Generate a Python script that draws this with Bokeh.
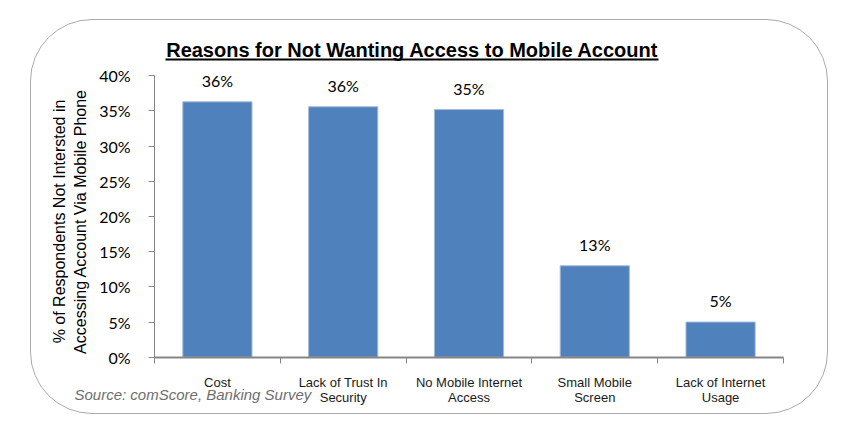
from bokeh.plotting import figure
from bokeh.models import (ColumnDataSource, FixedTicker, PrintfTickFormatter, Range1d,
                          LabelSet, Label, BoxAnnotation)
from bokeh.core.properties import value
from bokeh.embed import file_html
from bokeh.resources import INLINE

# ---- data ----
categories = ["Cost", "Lack of Trust In\nSecurity", "No Mobile Internet\nAccess",
              "Small Mobile\nScreen", "Lack of Internet\nUsage"]
values = [36.3, 35.6, 35.2, 13.0, 5.0]
y_ticks = [0, 5, 10, 15, 20, 25, 30, 35, 40]
title_text = "Reasons for Not Wanting Access to Mobile Account"
y_label_lines = ["% of Respondents Not Intersted in", "Accessing Account Via Mobile Phone"]
source_text = "Source: comScore, Banking Survey"

n = len(categories)
x_pos = [i + 0.5 for i in range(n)]
bounds = list(range(n + 1))
labels = [f"{round(v)}%" for v in values]
src = ColumnDataSource(dict(x=x_pos, top=values, label=labels))

W, H = 798, 395
p = figure(width=W, height=H,
           x_range=Range1d(-0.978, n + 0.366), y_range=Range1d(-8.28, 47.86),
           output_backend="svg", toolbar_location=None,
           min_border_left=0, min_border_right=0, min_border_top=0, min_border_bottom=0)
p.margin = (19, 0, 0, 30)
p.styles = {"border": "1px solid #ababab", "border-radius": "62px", "box-sizing": "border-box"}
p.background_fill_color = None
p.border_fill_color = None
p.outline_line_color = None
p.grid.visible = False

p.vbar(x="x", top="top", width=0.55, source=src,
       fill_color="#4F81BD", line_color="#A3BBDC", line_width=1)

p.add_layout(LabelSet(x="x", y="top", text="label", source=src, y_offset=15,
                      text_align="center", text_baseline="alphabetic",
                      text_font=value("Lato"), text_font_size="16px", text_color="#000000"))

# y axis
yax = p.yaxis[0]
yax.fixed_location = 0
yax.bounds = (y_ticks[0], y_ticks[-1])
yax.ticker = FixedTicker(ticks=y_ticks)
yax.formatter = PrintfTickFormatter(format="%d%%")
yax.axis_line_color = "#868686"
yax.major_tick_line_color = "#868686"
yax.major_tick_out = 6
yax.major_tick_in = 0
yax.minor_tick_line_color = None
yax.major_label_text_font = "Lato"
yax.major_label_text_font_size = "16px"
yax.major_label_text_color = "#000000"
yax.major_label_standoff = 18

# x axis
xax = p.xaxis[0]
xax.fixed_location = 0
xax.bounds = (0, n)
xax.ticker = FixedTicker(ticks=x_pos, minor_ticks=bounds)
xax.major_label_overrides = {x: c for x, c in zip(x_pos, categories)}
xax.axis_line_color = "#868686"
xax.axis_line_width = 2
xax.major_tick_line_color = None
xax.major_tick_out = 0
xax.major_tick_in = 0
xax.minor_tick_line_color = "#868686"
xax.minor_tick_out = 6
xax.minor_tick_in = 0
xax.major_label_text_font = "Liberation Sans"
xax.major_label_text_font_size = "13px"
xax.major_label_text_color = "#1a1a1a"
xax.major_label_text_line_height = 1.0
xax.major_label_standoff = 12

# y axis title (two rotated lines)
for xs, line in zip([28, 49], y_label_lines):
    p.add_layout(Label(x=xs, y=194, x_units="screen", y_units="screen", text=line,
                       angle=90, angle_units="deg",
                       text_font="Liberation Sans", text_font_size="16px",
                       text_align="center", text_baseline="middle", text_color="#000000"))

# title with underline
p.add_layout(Label(x=381, y=366, x_units="screen", y_units="screen", text=title_text,
                   text_font="Liberation Sans", text_font_size="20px", text_font_style="bold",
                   text_align="center", text_baseline="middle", text_color="#000000"))
p.add_layout(BoxAnnotation(left=134, right=627, bottom=355, top=357,
                           left_units="screen", right_units="screen",
                           bottom_units="screen", top_units="screen",
                           fill_color="#000000", fill_alpha=1.0, line_color=None))

# source note
p.add_layout(Label(x=43, y=21, x_units="screen", y_units="screen", text=source_text,
                   text_font="Liberation Sans", text_font_size="15px",
                   text_font_style="italic", text_color="#6e6e6e",
                   text_align="left", text_baseline="middle"))

open("out.html", "w").write(file_html(p, INLINE))
